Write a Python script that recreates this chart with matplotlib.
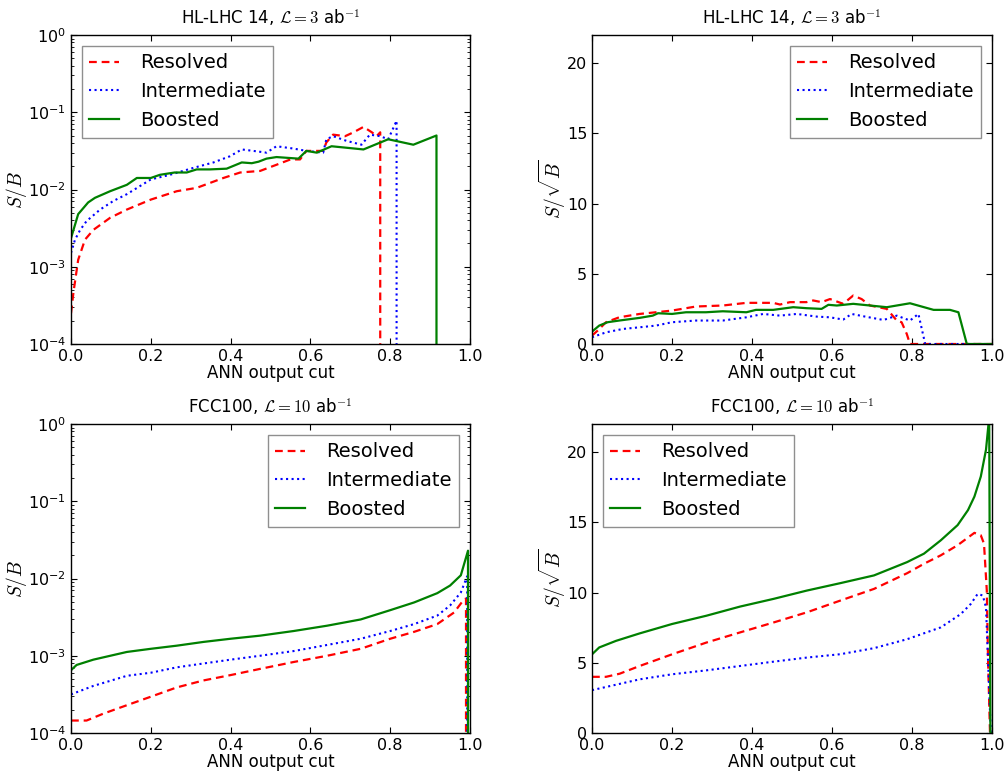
import numpy as np
import matplotlib
matplotlib.use("Agg")
import matplotlib.pyplot as plt
from matplotlib.ticker import LogLocator, LogFormatterMathtext

plt.rcParams.update({
    "font.family": "DejaVu Sans",
    "mathtext.fontset": "cm",
    "font.size": 11,
    "xtick.direction": "in",
    "ytick.direction": "in",
    "xtick.top": True,
    "ytick.right": True,
    "xtick.major.size": 4,
    "ytick.major.size": 4,
    "xtick.minor.size": 2,
    "ytick.minor.size": 2,
    "axes.linewidth": 1.0,
})

labels = ["Resolved", "Intermediate", "Boosted"]

# ---------- HL-LHC 14 : S/B (log) ----------
hl_sb_res_x = [0.0, 0.006, 0.018, 0.035, 0.056, 0.098, 0.14, 0.2, 0.265, 0.315, 0.382, 0.424, 0.474,
               0.515, 0.55, 0.574, 0.59, 0.632, 0.64, 0.657, 0.687, 0.708, 0.733, 0.754, 0.766, 0.775,
               0.778, 1.0]
hl_sb_res_y = [2.5e-4, 4.6e-4, 1.23e-3, 2.24e-3, 3.0e-3, 4.3e-3, 5.5e-3, 7.4e-3, 9.5e-3, 1.05e-2,
               1.41e-2, 1.66e-2, 1.74e-2, 2.09e-2, 2.45e-2, 2.45e-2, 3.16e-2, 3.16e-2, 4.07e-2,
               5.13e-2, 4.9e-2, 5.5e-2, 6.46e-2, 5.5e-2, 4.9e-2, 5.5e-2, 0.0, 0.0]

hl_sb_int_x = [0.0, 0.01, 0.023, 0.039, 0.073, 0.106, 0.14, 0.2, 0.248, 0.306, 0.357, 0.398, 0.428,
               0.457, 0.49, 0.515, 0.557, 0.59, 0.632, 0.64, 0.657, 0.69, 0.728, 0.749, 0.775, 0.795,
               0.816, 0.818, 1.0]
hl_sb_int_y = [1.51e-3, 2.24e-3, 3.0e-3, 3.9e-3, 5.5e-3, 7.1e-3, 8.7e-3, 1.35e-2, 1.55e-2, 1.9e-2,
               2.24e-2, 2.69e-2, 3.3e-2, 3.16e-2, 3.0e-2, 3.63e-2, 3.39e-2, 3.16e-2, 3.0e-2, 4.47e-2,
               4.9e-2, 4.27e-2, 3.8e-2, 5.13e-2, 4.9e-2, 4.47e-2, 7.76e-2, 0.0, 0.0]

hl_sb_boo_x = [0.0, 0.018, 0.043, 0.06, 0.098, 0.14, 0.165, 0.2, 0.223, 0.26, 0.29, 0.315, 0.348,
               0.39, 0.428, 0.453, 0.47, 0.49, 0.515, 0.57, 0.59, 0.616, 0.653, 0.733, 0.795, 0.858,
               0.916, 0.918, 1.0]
hl_sb_boo_y = [2.34e-3, 4.8e-3, 6.8e-3, 7.8e-3, 9.5e-3, 1.15e-2, 1.41e-2, 1.41e-2, 1.55e-2, 1.66e-2,
               1.66e-2, 1.82e-2, 1.82e-2, 1.86e-2, 2.24e-2, 2.19e-2, 2.29e-2, 2.51e-2, 2.63e-2,
               2.51e-2, 3.16e-2, 3.0e-2, 3.63e-2, 3.3e-2, 4.47e-2, 3.8e-2, 5.0e-2, 0.0, 0.0]

# ---------- HL-LHC 14 : S/sqrt(B) ----------
hl_ss_res_x = [0.0, 0.014, 0.035, 0.068, 0.119, 0.16, 0.2, 0.26, 0.327, 0.386, 0.453, 0.47, 0.495,
               0.536, 0.553, 0.574, 0.595, 0.628, 0.653, 0.674, 0.695, 0.737, 0.762, 0.774, 0.787,
               0.795, 1.0]
hl_ss_res_y = [0.6, 0.95, 1.55, 1.9, 2.14, 2.26, 2.38, 2.67, 2.74, 2.93, 2.93, 2.81, 2.98, 2.98, 3.1,
               2.98, 3.2, 2.86, 3.45, 3.2, 2.74, 2.5, 1.67, 1.55, 0.71, 0.0, 0.0]

hl_ss_int_x = [0.0, 0.035, 0.077, 0.119, 0.16, 0.2, 0.26, 0.327, 0.386, 0.428, 0.47, 0.512, 0.562,
               0.595, 0.628, 0.649, 0.683, 0.729, 0.762, 0.795, 0.816, 0.833, 1.0]
hl_ss_int_y = [0.48, 0.83, 1.07, 1.19, 1.31, 1.55, 1.67, 1.67, 1.9, 2.14, 2.02, 2.14, 1.95, 1.9, 1.74,
               2.14, 1.95, 1.71, 2.02, 1.67, 2.14, 0.0, 0.0]

hl_ss_boo_x = [0.0, 0.018, 0.039, 0.068, 0.119, 0.152, 0.165, 0.2, 0.235, 0.285, 0.327, 0.386, 0.41,
               0.453, 0.503, 0.536, 0.574, 0.591, 0.612, 0.653, 0.695, 0.737, 0.795, 0.854, 0.895,
               0.916, 0.937, 1.0]
hl_ss_boo_y = [0.88, 1.31, 1.55, 1.67, 1.86, 2.02, 2.19, 2.14, 2.26, 2.26, 2.33, 2.26, 2.43, 2.43,
               2.62, 2.55, 2.5, 2.79, 2.74, 2.86, 2.74, 2.62, 2.9, 2.43, 2.43, 2.26, 0.0, 0.0]

# ---------- FCC100 : S/B (log) ----------
fcc_sb_res_x = [0.0, 0.039, 0.081, 0.14, 0.2, 0.265, 0.332, 0.4, 0.474, 0.558, 0.642, 0.726, 0.8,
                0.86, 0.918, 0.96, 0.985, 0.99, 0.992, 1.0]
fcc_sb_res_y = [1.45e-4, 1.45e-4, 1.78e-4, 2.29e-4, 2.95e-4, 3.89e-4, 4.79e-4, 5.62e-4, 6.76e-4,
                8.3e-4, 1.0e-3, 1.23e-3, 1.66e-3, 2.04e-3, 2.57e-3, 3.63e-3, 5.37e-3, 5.5e-3,
                0.0, 0.0]

fcc_sb_int_x = [0.0, 0.056, 0.14, 0.2, 0.265, 0.332, 0.4, 0.474, 0.558, 0.642, 0.726, 0.8, 0.86,
                0.918, 0.95, 0.977, 0.993, 0.995, 1.0]
fcc_sb_int_y = [3.16e-4, 4.07e-4, 5.5e-4, 6.03e-4, 7.08e-4, 7.94e-4, 8.9e-4, 1.0e-3, 1.15e-3,
                1.38e-3, 1.66e-3, 2.09e-3, 2.57e-3, 3.31e-3, 4.47e-3, 6.6e-3, 1.07e-2, 0.0, 0.0]

fcc_sb_boo_x = [0.0, 0.014, 0.056, 0.14, 0.2, 0.265, 0.332, 0.4, 0.474, 0.558, 0.642, 0.726, 0.8,
                0.86, 0.918, 0.95, 0.977, 0.995, 0.997, 1.0]
fcc_sb_boo_y = [6.5e-4, 7.6e-4, 8.9e-4, 1.12e-3, 1.23e-3, 1.35e-3, 1.51e-3, 1.66e-3, 1.82e-3,
                2.09e-3, 2.45e-3, 2.95e-3, 3.89e-3, 4.9e-3, 6.46e-3, 8.1e-3, 1.1e-2, 2.29e-2,
                0.0, 0.0]

# ---------- FCC100 : S/sqrt(B) ----------
fcc_ss_res_x = [0.0, 0.035, 0.069, 0.119, 0.2, 0.286, 0.37, 0.454, 0.537, 0.621, 0.705, 0.788,
                0.83, 0.872, 0.914, 0.956, 0.972, 0.98, 0.987, 0.99, 0.995, 1.0]
fcc_ss_res_y = [4.0, 4.0, 4.22, 4.77, 5.6, 6.44, 7.16, 7.87, 8.59, 9.43, 10.26, 11.38, 12.05, 12.65,
                13.37, 14.25, 14.08, 13.48, 10.14, 5.37, 0.0, 0.0]

fcc_ss_int_x = [0.0, 0.119, 0.2, 0.286, 0.37, 0.454, 0.537, 0.621, 0.705, 0.788, 0.872, 0.922,
                0.947, 0.964, 0.977, 0.985, 0.993, 0.997, 1.0]
fcc_ss_int_y = [3.05, 3.82, 4.18, 4.46, 4.77, 5.08, 5.37, 5.61, 6.04, 6.68, 7.52, 8.47, 9.19, 9.9,
                9.79, 8.95, 2.98, 0.0, 0.0]

fcc_ss_boo_x = [0.0, 0.018, 0.06, 0.119, 0.2, 0.286, 0.37, 0.454, 0.537, 0.621, 0.705, 0.788,
                0.83, 0.872, 0.914, 0.94, 0.956, 0.972, 0.985, 0.993, 0.996, 1.0]
fcc_ss_boo_y = [5.6, 6.09, 6.56, 7.09, 7.76, 8.35, 9.0, 9.55, 10.14, 10.67, 11.22, 12.17, 12.77,
                13.72, 14.8, 15.87, 16.83, 18.26, 20.17, 22.5, 0.0, 0.0]

titles = [r"HL-LHC 14, $\mathcal{L}=3$ ab$^{-1}$", r"FCC100, $\mathcal{L}=10$ ab$^{-1}$"]

fig = plt.figure(figsize=(10.08, 7.76), dpi=100, facecolor="white")
W, H = 1008.0, 776.0
def rect(l, t, r, b):
    return [l / W, 1 - b / H, (r - l) / W, (b - t) / H]

ax_tl = fig.add_axes(rect(71, 35, 470, 344))
ax_tr = fig.add_axes(rect(592, 35, 992, 344))
ax_bl = fig.add_axes(rect(71, 424, 470, 733))
ax_br = fig.add_axes(rect(592, 424, 992, 733))

styles = [dict(color="r", linestyle="--", dashes=(3.5, 2.2), lw=1.6),
          dict(color="b", linestyle=":", lw=1.5),
          dict(color="g", linestyle="-", lw=1.6)]

panels = [
    (ax_tl, [(hl_sb_res_x, hl_sb_res_y), (hl_sb_int_x, hl_sb_int_y), (hl_sb_boo_x, hl_sb_boo_y)],
     True, titles[0], "upper left"),
    (ax_tr, [(hl_ss_res_x, hl_ss_res_y), (hl_ss_int_x, hl_ss_int_y), (hl_ss_boo_x, hl_ss_boo_y)],
     False, titles[0], "upper right"),
    (ax_bl, [(fcc_sb_res_x, fcc_sb_res_y), (fcc_sb_int_x, fcc_sb_int_y), (fcc_sb_boo_x, fcc_sb_boo_y)],
     True, titles[1], "upper right"),
    (ax_br, [(fcc_ss_res_x, fcc_ss_res_y), (fcc_ss_int_x, fcc_ss_int_y), (fcc_ss_boo_x, fcc_ss_boo_y)],
     False, titles[1], "upper left"),
]

for ax, series, is_log, title, loc in panels:
    for (xs, ys), st, lab in zip(series, styles, labels):
        ax.plot(xs, ys, label=lab, **st)
    ax.set_xlim(0, 1.0)
    ax.set_xticks([0.0, 0.2, 0.4, 0.6, 0.8, 1.0])
    ax.set_xticklabels(["0.0", "0.2", "0.4", "0.6", "0.8", "1.0"])
    if is_log:
        ax.set_yscale("log", nonpositive="clip")
        ax.set_ylim(1e-4, 1.0)
        ax.yaxis.set_major_locator(LogLocator(base=10, numticks=10))
        ax.yaxis.set_major_formatter(LogFormatterMathtext())
        ax.yaxis.set_minor_locator(LogLocator(base=10, subs=np.arange(2, 10), numticks=20))
        ax.set_ylabel(r"$S/B$", fontsize=14, labelpad=-1)
    else:
        ax.set_ylim(0, 22)
        ax.set_yticks([0, 5, 10, 15, 20])
        ax.set_ylabel(r"$S/\sqrt{B}$", fontsize=14, labelpad=-1)
    ax.set_xlabel("ANN output cut", fontsize=12, labelpad=0)
    ax.set_title(title, fontsize=12, pad=8)
    ax.tick_params(which="both", top=True, right=True, direction="in", labelsize=11.5)
    leg = ax.legend(loc=loc, fontsize=14, fancybox=False, handlelength=1.5,
                    handletextpad=1.1, labelspacing=0.5, borderpad=0.4, borderaxespad=0.55)
    leg.get_frame().set_edgecolor("0.45")
    leg.get_frame().set_linewidth(1.0)

fig.savefig("out.png", dpi=100, facecolor="white")
